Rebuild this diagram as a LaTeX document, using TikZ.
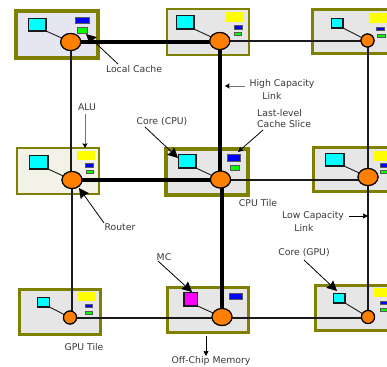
\documentclass[tikz,border=0pt]{standalone}
\usepackage{fontspec}
\setmainfont{DejaVu Sans}
\usetikzlibrary{arrows.meta,shapes.geometric}
\definecolor{olivec}{HTML}{808000}
\definecolor{tilegray}{HTML}{E6E6E6}
\definecolor{tilelav}{HTML}{E6E6F2}
\definecolor{tilecream}{HTML}{F2F2E6}
\definecolor{routerc}{HTML}{FF8000}
\definecolor{inkc}{HTML}{1A1A1A}
\definecolor{cyanc}{HTML}{00FFFF}
\definecolor{magc}{HTML}{FF00FF}
\definecolor{bluec}{HTML}{0000FF}
\definecolor{greenc}{HTML}{00FF00}
\definecolor{yellowc}{HTML}{FFFF00}
\newcommand{\rbox}[6]{%
  \pgfmathsetmacro{\rw}{#5-#3}\pgfmathsetmacro{\rh}{#6-#4}%
  \pgfmathsetmacro{\rcx}{(#3+#5)/2}\pgfmathsetmacro{\rcy}{(#4+#6)/2}%
  \node[#2,minimum width=\rw pt,minimum height=\rh pt] (#1) at (\rcx,\rcy) {};}
\tikzset{
  x=1pt,y=-1pt,
  base/.style={inner sep=0pt,outer sep=0pt,rectangle},
  tilethin/.style={base,draw=olivec,line width=2.2pt,fill=tilegray},
  tilethick/.style={base,draw=olivec,line width=4.2pt,fill=tilegray},
  corebox/.style={base,draw=inkc,line width=1.2pt,fill=cyanc},
  mcbox/.style={base,draw=inkc,line width=1.2pt,fill=magc},
  bluebox/.style={base,draw=black!65,line width=0.9pt,fill=bluec},
  greenbox/.style={base,draw=black!65,line width=0.9pt,fill=greenc},
  yellowbox/.style={base,fill=yellowc},
  router/.style={ellipse,inner sep=0pt,outer sep=0pt,draw=black,line width=1.1pt,fill=routerc},
  routerbig/.style={router,minimum width=20pt,minimum height=17pt},
  routersmall/.style={router,minimum width=13pt,minimum height=13pt},
  hi/.style={line width=3.8pt,draw=black},
  lo/.style={line width=2pt,draw=inkc},
  spoke/.style={line width=0.9pt,draw=inkc},
  lab/.style={font=\fontsize{9.3}{11}\selectfont,text=black!78,inner sep=0pt},
  bigarrow/.style={draw=black,line width=0.8pt,-{Stealth[length=10pt,width=10pt,inset=1pt]}},
  smallarrow/.style={draw=black,line width=0.8pt,-{Stealth[length=5pt,width=5pt,inset=0.5pt]}},
  grayarrow/.style={draw=black!55,line width=0.9pt,-{Stealth[length=4.5pt,width=5pt,color=black,inset=0.5pt]}},
}
\begin{document}
\begin{tikzpicture}
\useasboundingbox (0,0) rectangle (387,366);
\clip (0,0) rectangle (387,366);
% tiles
\rbox{t00}{tilethick,fill=tilelav}{16}{11}{98}{58}
\rbox{t01}{tilethin}{167}{9}{249}{55}
\rbox{t02}{tilethin,line width=2.6pt}{312.3}{9.3}{400}{53.7}
\rbox{t10}{tilethin,fill=tilecream}{17}{148}{99}{194}
\rbox{t11}{tilethick}{166}{149}{248}{195}
\rbox{t12}{tilethin,line width=2.6pt}{313.3}{147.3}{400}{191.7}
\rbox{t20}{tilethin,line width=2.6pt}{19.3}{289.3}{100.7}{334.7}
\rbox{t21}{tilethin,line width=2.6pt}{167.3}{287.3}{248.7}{332.7}
\rbox{t22}{tilethin,line width=2.6pt}{315.3}{285.3}{400}{330.7}
% yellow
\rbox{y01}{yellowbox}{226}{12}{244}{22}
\rbox{y02}{yellowbox}{370}{13}{388}{23}
\rbox{y10}{yellowbox}{77}{151}{95}{160}
\rbox{y12}{yellowbox}{373}{151}{388}{161}
\rbox{y20}{yellowbox}{78}{292}{95}{301}
\rbox{y22}{yellowbox}{374}{288}{388}{297}
% blue
\rbox{b00}{bluebox}{75.5}{17.5}{89.5}{23.5}
\rbox{b01}{bluebox}{234}{25.5}{242}{29}
\rbox{b02}{bluebox}{376.5}{27.5}{384.5}{30.5}
\rbox{b10}{bluebox}{85.5}{163.5}{93}{167}
\rbox{b11}{bluebox}{227.5}{154.5}{240.5}{161}
\rbox{b12}{bluebox}{380}{163.5}{388}{167}
\rbox{b20}{bluebox}{85.5}{304.5}{92.5}{307.5}
\rbox{b21}{bluebox}{229.5}{293.5}{242.5}{299.5}
\rbox{b22}{bluebox}{380.5}{301.5}{388}{304.5}
% green
\rbox{g00}{greenbox}{77.5}{27.5}{87}{33}
\rbox{g01}{greenbox}{234}{32.5}{241.5}{35.5}
\rbox{g02}{greenbox}{377.5}{34}{385.5}{37}
\rbox{g10}{greenbox}{86.5}{170.5}{93.5}{173.5}
\rbox{g11}{greenbox}{230}{165}{239.5}{170}
\rbox{g12}{greenbox}{380.5}{170.5}{388}{173.5}
\rbox{g20}{greenbox}{85.5}{311}{92.5}{314}
\rbox{g22}{greenbox}{380}{308.5}{388}{311.5}
% cores
\rbox{c00}{corebox}{28.5}{18.5}{46}{31}
\rbox{c01}{corebox}{176.5}{15.5}{194}{29}
\rbox{c02}{corebox}{331.5}{18.5}{343}{28}
\rbox{c10}{corebox}{29.5}{155.5}{48}{169}
\rbox{c11}{corebox}{178.5}{154.5}{196}{168}
\rbox{c12}{corebox}{325.5}{153.5}{344}{166}
\rbox{c20}{corebox}{37.5}{297.5}{49.5}{307}
\rbox{c21}{mcbox}{184}{292.5}{197.5}{306}
\rbox{c22}{corebox}{333.5}{293.5}{345}{303}
% links
\node[routerbig] (r00) at (70.7,42) {};
\node[routerbig] (r01) at (219.8,41) {};
\node[routersmall] (r02) at (367.5,40.5) {};
\node[routerbig] (r10) at (72,180) {};
\node[routerbig] (r11) at (220.5,179.5) {};
\node[routerbig] (r12) at (368,177) {};
\node[routersmall] (r20) at (70,317.5) {};
\node[routerbig] (r21) at (222,317) {};
\node[routersmall] (r22) at (368,317) {};
\draw[hi] (r00) -- (r00 -| r01);
\draw[hi] (r10) -- (r10 -| r11);
\draw[hi] (r01) -- (r01 |- r11);
\draw[hi] (r21 |- r11) -- (r21);
\draw[lo] (r01) -- (r01 -| r02);
\draw[lo] (r10 -| r11) -- (r10 -| r12);
\draw[lo] (r20) -- (r20 -| r21);
\draw[lo] (r20 -| r21) -- (r20 -| r22);
\draw[lo] (r00) -- (r00 |- r10);
\draw[lo] (r10) -- (r10 |- r20);
\draw[lo] (r02) -- (r02 |- r12);
\draw[lo] (r12) -- (r12 |- r22);
% spokes
\foreach \c/\r in {c00/r00,c01/r01,c02/r02,c10/r10,c11/r11,c12/r12,c20/r20,c21/r21,c22/r22}
  \draw[spoke] (\c.south east) -- (\r);
% routers on top
\node[routerbig] at (r00) {};
\node[routerbig] at (r01) {};
\node[routersmall] at (r02) {};
\node[routerbig] at (r10) {};
\node[routerbig] at (r11) {};
\node[routerbig] at (r12) {};
\node[routersmall] at (r20) {};
\node[routerbig] at (r21) {};
\node[routersmall] at (r22) {};
% labels
\node[lab] (llc) at (134,69) {Local Cache};
\node[lab] (lalu) at (87,107) {ALU};
\node[lab] (lcpu) at (162,122) {Core (CPU)};
\node[lab] (lrt) at (120,227) {Router};
\node[lab] (lhc1) at (282,84) {High Capacity};
\node[lab] (lhc2) at (272,96) {Link};
\node[lab,anchor=west] (lls1) at (257,113) {Last-level};
\node[lab,anchor=west] (lls2) at (257,124) {Cache Slice};
\node[lab] (lct) at (258,203) {CPU Tile};
\node[lab] (llo1) at (313,216) {Low Capacity};
\node[lab] (llo2) at (304,228) {Link};
\node[lab] (lgc) at (304,253) {Core (GPU)};
\node[lab] (lmc) at (164,257) {MC};
\node[lab] (lgt) at (84,347) {GPU Tile};
\node[lab] (lom) at (211,361) {Off-Chip Memory};
% arrows
\coordinate (alc) at (86,34);
\coordinate (aalu) at (85,148);
\coordinate (acpu) at (178,158);
\coordinate (art) at (79,188);
\coordinate (ahc) at (225,86);
\coordinate (als) at (238,152);
\coordinate (alo) at (368,216);
\coordinate (agc) at (337,291);
\coordinate (amc) at (192,292);
\coordinate (aom) at (206,356);
\coordinate (somb) at (206,336);
\draw[bigarrow] (118,64) -- (alc);
\draw[grayarrow] (85,114) -- (aalu);
\draw[bigarrow] (145,127) -- (acpu);
\draw[bigarrow] (104,223) -- (art);
\draw[grayarrow] (245,86) -- (ahc);
\draw[smallarrow] (263,130) -- (als);
\draw[smallarrow] (349,216) -- (alo);
\draw[bigarrow] (304,260) -- (agc);
\draw[bigarrow] (158,261) -- (amc);
\draw[smallarrow] (somb) -- (aom);
\end{tikzpicture}
\end{document}
